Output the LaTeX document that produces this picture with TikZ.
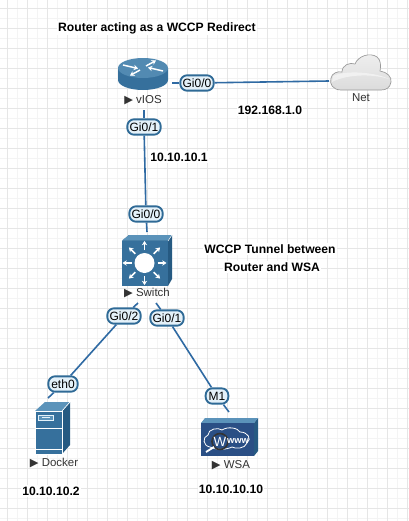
\documentclass[tikz,border=0pt]{standalone}
\usepackage{fontspec}
\setmainfont{Liberation Sans}
\newfontfamily\symfont{DejaVu Sans}
\usetikzlibrary{arrows.meta}
\definecolor{devblue}{HTML}{36709C}
\definecolor{devdark}{HTML}{265A82}
\definecolor{devlight}{HTML}{5B93BA}
\definecolor{linkblue}{HTML}{2F6AA3}
\definecolor{pillfill}{HTML}{E4F1F9}
\definecolor{pilledge}{HTML}{2F6A96}
\definecolor{gridminor}{HTML}{F4F4F4}
\definecolor{gridmajor}{HTML}{E6E6E6}
\definecolor{wsablue}{HTML}{2A4F85}
\definecolor{labelgrey}{HTML}{333333}
\tikzset{
  pill/.style={draw=pilledge,fill=pillfill,line width=1.4pt,rounded corners=5pt,
    font=\fontsize{9}{10}\selectfont,text=black,inner sep=0pt,minimum height=11.5pt},
  note/.style={font=\fontsize{9.1}{10}\selectfont\bfseries,text=black,fill=white,inner sep=1pt},
  devlabel/.style={font=\fontsize{8.6}{10}\selectfont,text=labelgrey,inner sep=0pt},
  link/.style={draw=linkblue,line width=1.2pt},
  whitearrow/.style={draw=white,line width=1.1pt,-{Stealth[length=3.2pt,width=4pt]}}
}
\newcommand{\playmark}{{\symfont\fontsize{8.5}{10}\selectfont ▶}}
\begin{document}
\begin{tikzpicture}[x=0.75pt,y=-0.75pt]
\useasboundingbox (0,0) rectangle (409,521);
\fill[white] (0,0) rectangle (409,521);
% grid
\foreach \g in {7.5,27.5,...,407.5} \draw[gridminor,line width=0.5pt] (\g+10,0) -- (\g+10,521);
\foreach \g in {8,28,...,508} \draw[gridminor,line width=0.5pt] (0,\g+10) -- (409,\g+10);
\foreach \g in {7.5,27.5,...,407.5} \draw[gridmajor,line width=0.6pt] (\g,0) -- (\g,521);
\foreach \g in {8,28,...,508} \draw[gridmajor,line width=0.6pt] (0,\g) -- (409,\g);

% device labels
\node[devlabel] (viosL) at (143,100) {\playmark\ vIOS};
\node[devlabel] (netL) at (361,98) {Net};
\node[devlabel] (swL) at (147,293) {\playmark\ Switch};
\node[devlabel] (dockL) at (54,463) {\playmark\ Docker};
\node[devlabel] (wsaL) at (231,465) {\playmark\ WSA};

% connector ends
\coordinate (vios) at (144,110);
\coordinate (viosE) at (172,83);
\coordinate (net) at (329,81);
\coordinate (swN) at (147,232);
\coordinate (swW) at (138,303);
\coordinate (swE) at (156,303);
\coordinate (dock) at (48,398);
\coordinate (wsa) at (229,412);

% interface labels
\node[pill,minimum width=25pt] (pG00) at (197,83) {Gi0/0};
\node[pill,minimum width=25pt] (pG01) at (144,127) {Gi0/1};
\node[pill,minimum width=25pt] (pS00) at (146,214) {Gi0/0};
\node[pill,minimum width=25pt] (pS02) at (124,316) {Gi0/2};
\node[pill,minimum width=25pt] (pS01) at (167,318) {Gi0/1};
\node[pill,minimum width=22pt] (pE0) at (63,384) {eth0};
\node[pill,minimum width=17pt] (pM1) at (217,396) {M1};

% connectors
\path[link] (viosE) -- (pG00);
\path[link] (pG00) -- (net);
\path[link] (vios) -- (pG01);
\path[link] (pG01) -- (pS00);
\path[link] (pS00) -- (swN);
\path[link] (swW) -- (pS02);
\path[link] (pS02) -- (pE0);
\path[link] (pE0) -- (dock);
\path[link] (swE) -- (pS01);
\path[link] (pS01) -- (pM1);
\path[link] (pM1) -- (wsa);

% router
\fill[devblue] (118,68) -- (118,80) arc[start angle=180,end angle=0,x radius=25,y radius=10] -- (168,68) -- cycle;
\fill[devlight!75!devblue] (143,68) ellipse[x radius=25,y radius=10];
\draw[whitearrow] (123,65) -- (138,68.5);
\draw[whitearrow] (163,71) -- (148,67.5);
\draw[whitearrow] (146,66) -- (156,60.5);
\draw[whitearrow] (140,70) -- (130,75.5);

% cloud
\path[draw=black!40,line width=0.5pt,top color=black!6,bottom color=black!14]
  (341,90) .. controls (333,90) and (329,84) .. (331,78)
  .. controls (332,73) and (338,71) .. (342,72)
  .. controls (342,65) and (350,62) .. (355,64)
  .. controls (358,56) and (370,52) .. (377,57)
  .. controls (381,60) and (381,66) .. (380,71)
  .. controls (387,72) and (392,77) .. (391,82)
  .. controls (390,88) and (386,90) .. (381,90) -- cycle;
\fill[white,opacity=0.5] (333,76) .. controls (345,70) and (375,72) .. (389,79)
  .. controls (370,73) and (345,75) .. (332,82) -- cycle;

% switch
\fill[devdark] (122,241) -- (129,235) -- (172,235) -- (172,279) -- (168,286) -- (168,241) -- cycle;
\fill[devlight] (122,240.5) -- (129,235) -- (172,235) -- (168,240.5) -- cycle;
\draw[white,line width=0.4pt] (168,241) -- (172,235);
\fill[devblue] (122,241) rectangle (168,286);
\fill[white] (144.5,263) circle[radius=10];
\foreach \a in {0,45,...,315}
  \draw[whitearrow] (144.5,263) ++(\a:13) -- ++(\a:9);

% docker
\fill[devdark] (62,411) -- (70,402) -- (70,445) -- (62,454) -- cycle;
\fill[devlight] (35,411) -- (45,402) -- (70,402) -- (62,411) -- cycle;
\fill[devblue] (35,411) rectangle (62,454);
\draw[white,line width=0.5pt] (35,411) rectangle (62,454);
\draw[white,line width=0.5pt] (35,428) -- (62,428);
\draw[white,line width=0.5pt] (35,449) -- (62,449);
\draw[white,line width=0.5pt] (62,411) -- (70,402);
\draw[pillfill,fill=devlight,line width=0.5pt] (38.5,415) rectangle (53,420.5);
\draw[pillfill,line width=0.5pt] (42,417.7) -- (50,417.7);

% wsa
\fill[devdark] (254,423) -- (258,418) -- (258,451) -- (254,456) -- cycle;
\fill[devlight] (201,423) -- (205,418) -- (258,418) -- (254,423) -- cycle;
\fill[wsablue] (201,423) rectangle (254,456);
\draw[white,line width=0.6pt,fill=wsablue]
  (210,447) .. controls (203,446) and (202,437) .. (208,435)
  .. controls (208,429) and (218,427) .. (222,430)
  .. controls (228,426) and (238,428) .. (240,432)
  .. controls (248,432) and (252,439) .. (247,443)
  .. controls (245,449) and (235,449) .. (232,447)
  .. controls (226,450) and (216,450) .. (210,447) -- cycle;
\draw[black!80,line width=1.2pt] (220,441.5) circle[radius=8];
\draw[white,line width=1.4pt] (214,447) -- (206,452);
\node[inner sep=0pt,text=white,font=\fontsize{10}{10}\selectfont] (wsaW) at (220,441.5) {W};
\node[inner sep=0pt,text=white,font=\fontsize{7}{8}\selectfont\bfseries] (wsaWww) at (238,441) {www};

% notes
\node[note] (title) at (157,28) {Router acting as a WCCP Redirect};
\node[note] (netIp) at (270,110) {192.168.1.0};
\node[note] (viosIp) at (179,157) {10.10.10.1};
\node[note] (tun1) at (270,249) {WCCP Tunnel between};
\node[note] (tun2) at (272,267) {Router and WSA};
\node[note] (dockIp) at (51,491) {10.10.10.2};
\node[note] (wsaIp) at (231,489) {10.10.10.10};
\end{tikzpicture}
\end{document}
